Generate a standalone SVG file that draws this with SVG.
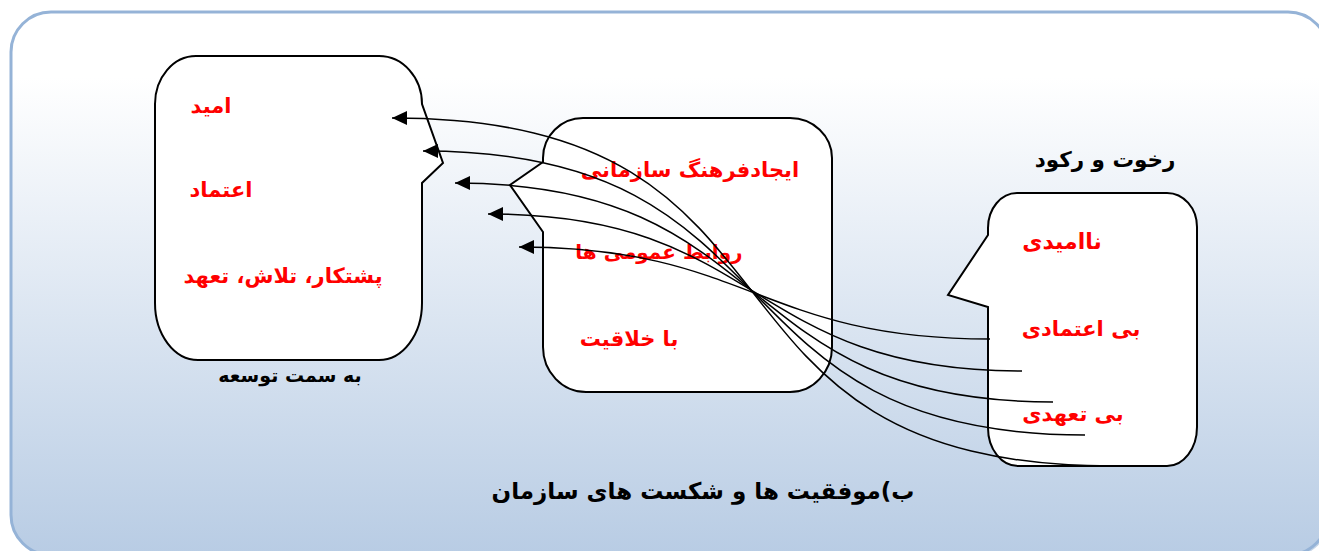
<svg xmlns="http://www.w3.org/2000/svg" width="1319" height="551" viewBox="0 0 1319 551">
  <defs>
    <linearGradient id="bg" x1="0" y1="0" x2="0" y2="1">
      <stop offset="0" stop-color="#ffffff"/>
      <stop offset="0.12" stop-color="#ffffff"/>
      <stop offset="1" stop-color="#b8cce4"/>
    </linearGradient>
    <marker id="arrow" markerWidth="16" markerHeight="14" refX="15" refY="7" orient="auto" markerUnits="userSpaceOnUse">
      <path d="M0,0 L15,7 L0,14 Z" fill="#000"/>
    </marker>
    <style>
      .box { fill: #ffffff; stroke: #000; stroke-width: 2; stroke-linejoin: miter; }
      .red { font-family: 'DejaVu Sans', sans-serif; font-weight: bold; font-size: 21px; fill: #ff0000; text-anchor: middle; }
      .lbl { font-family: 'DejaVu Sans', sans-serif; font-weight: bold; font-size: 20px; fill: #000; text-anchor: middle; }
      .cap { font-family: 'DejaVu Sans', sans-serif; font-weight: bold; font-size: 23px; fill: #000; text-anchor: middle; }
      .conn { fill: none; stroke: #000; stroke-width: 1.5; }
    </style>
  </defs>
  <rect x="0" y="0" width="1319" height="551" fill="#ffffff"/>
  <rect x="13" y="14" width="1317" height="543" rx="40" ry="40" fill="#9fb7d6" opacity="0.6"/>
  <rect id="frame" x="11" y="12" width="1317" height="543" rx="40" ry="40" fill="url(#bg)" stroke="#95b3d7" stroke-width="3"/>

  <g id="node-left">
    <path class="box" d="M196,56 H379 A43,48 0 0 1 422,104 L443,163 L422,183 V303 A43,57 0 0 1 379,360 H198 A43,57 0 0 1 155,303 V104 A41,48 0 0 1 196,56 Z"/>
    <text class="red" x="211" y="113">امید</text>
    <text class="red" x="221" y="197">اعتماد</text>
    <text class="red" x="283" y="283">پشتکار، تلاش، تعهد</text>
  </g>
  <text id="label-left" class="lbl" x="290" y="382" style="font-size:19px">به سمت توسعه</text>

  <g id="node-middle">
    <path class="box" d="M583,118 H790 A42,40 0 0 1 832,158 V347 A42,45 0 0 1 790,392 H586 A43,45 0 0 1 543,347 V232 L510,185 L543,162 V158 A40,40 0 0 1 583,118 Z"/>
    <text class="red" x="690" y="177">ایجادفرهنگ سازمانی</text>
    <text class="red" x="659" y="259" style="font-size:20px">روابط عمومی ها</text>
    <text class="red" x="629" y="346">با خلاقیت</text>
  </g>

  <g id="node-right">
    <path class="box" d="M1017,193 H1167 A30,34 0 0 1 1197,227 V427 A30,39 0 0 1 1167,466 H1018 A30,38 0 0 1 988,428 V307 L948,295 L988,235 V228 A29,35 0 0 1 1017,193 Z"/>
    <text class="red" x="1062" y="249" style="font-size:22px">ناامیدی</text>
    <text class="red" x="1081" y="336">بی اعتمادی</text>
    <text class="red" x="1073" y="421">بی تعهدی</text>
  </g>
  <text id="label-right" class="lbl" x="1105" y="167" style="font-size:21.5px">رخوت و رکود</text>

  <g id="connectors">
    <path class="conn" marker-end="url(#arrow)" d="M1113,466 C663,466 842,118 392,118"/>
    <path class="conn" marker-end="url(#arrow)" d="M1085,435 C701,435 807,151 423,151"/>
    <path class="conn" marker-end="url(#arrow)" d="M1053,402 C724,402 784,183 455,183"/>
    <path class="conn" marker-end="url(#arrow)" d="M1022,371 C744,371 766,214 488,214"/>
    <path class="conn" marker-end="url(#arrow)" d="M990,339 C759,339 750,247 519,247"/>
  </g>

  <text id="caption" class="cap" x="703" y="499">ب)موفقیت ها و شکست های  سازمان</text>
</svg>
